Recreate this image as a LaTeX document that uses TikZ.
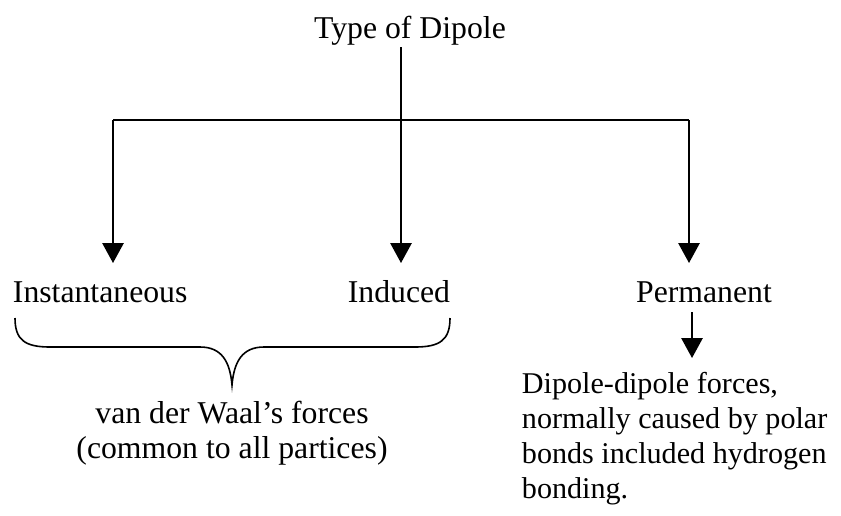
\documentclass[tikz,border=0pt]{standalone}
\usepackage{fontspec}
\setmainfont{Liberation Serif}
\usetikzlibrary{arrows.meta}

\begin{document}
\begin{tikzpicture}[x=0.75pt,y=-0.75pt,line width=1.4pt,
    >={Triangle[width=16pt,length=15pt]},
    txt/.style={font=\fontsize{23.8}{26.25}\selectfont,inner sep=0pt,anchor=base}]
\useasboundingbox (0,0) rectangle (841,515);

% labels (multi-line ones sit on their last baseline)
\node[txt] (type) at (410,38) {Type of Dipole};
\node[txt,anchor=base west] (inst) at (12,302) {Instantaneous};
\node[txt,anchor=base east] (induced) at (451,302) {Induced};
\node[txt] (perm) at (704,302) {Permanent};
\node[txt,align=center] (vdw) at (232,458) {van der Waal's forces\\(common to all partices)};
\node[txt,anchor=base west,align=left,font=\fontsize{22.6}{26.25}\selectfont] (dd) at (521,498)
    {Dipole-dipole forces,\\normally caused by polar\\bonds included hydrogen\\bonding.};

% branch points and arrow ends
\coordinate (stem) at (401,47);
\coordinate (split) at (401,120);
\coordinate (lbr) at (113,120);
\coordinate (rbr) at (689,120);
\coordinate (ltip) at (113,263);
\coordinate (mtip) at (401,263);
\coordinate (rtip) at (689,263);
\coordinate (ptop) at (692,312);
\coordinate (ptip) at (692,358);

\draw (stem) -- (split);
\draw (lbr) -- (rbr);
\draw[->] (lbr) -- (ltip);
\draw[->] (split) -- (mtip);
\draw[->] (rbr) -- (rtip);
\draw[->] (ptop) -- (ptip);

% brace under the first two
\draw[line width=1.2pt] (15,318) .. controls (15,340) and (25,347) .. (50,347)
    -- (200,347) .. controls (222,347) and (230,362) .. (232,385)
    .. controls (234,362) and (242,347) .. (264,347)
    -- (415,347) .. controls (440,347) and (450,340) .. (450,318);
\end{tikzpicture}
\end{document}
